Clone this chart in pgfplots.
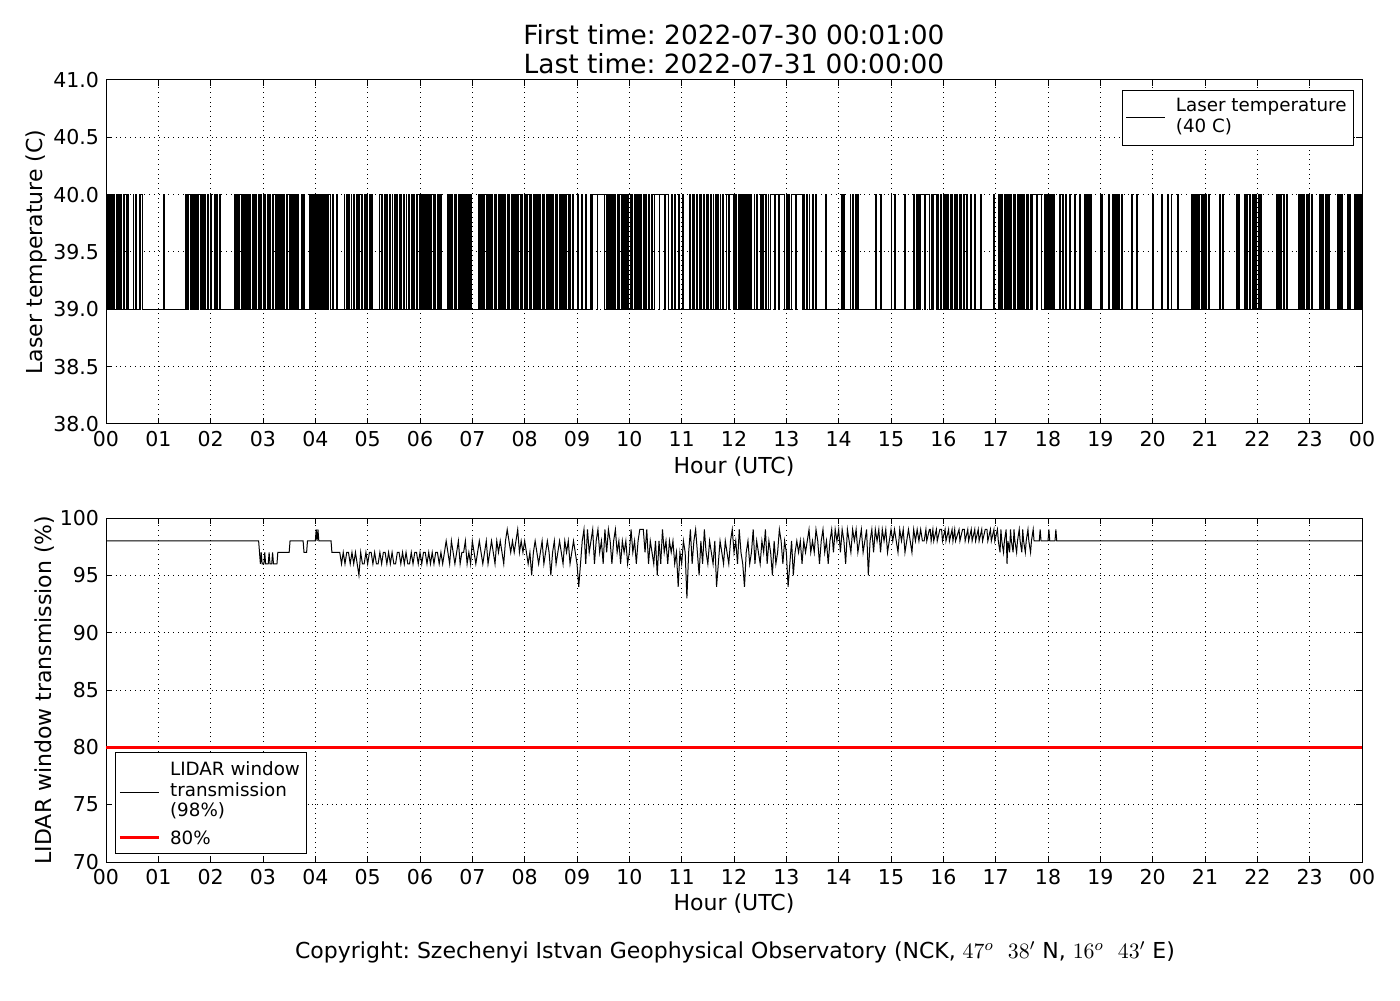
\documentclass[border=0pt]{standalone}
\usepackage{pgfplots}
\pgfplotsset{compat=1.18}
\usepackage{fontspec}
\setmainfont{DejaVu Sans}
\frenchspacing
\begin{document}
\begin{tikzpicture}
\pgfplotsset{
  every axis/.append style={
    scale only axis, width=628pt, height=172pt, anchor=south west,
    xmin=0, xmax=1440,
    xtick={0,60,...,1440},
    xticklabels={00,01,02,03,04,05,06,07,08,09,10,11,12,13,14,15,16,17,18,19,20,21,22,23,00},
    xtick pos=both, ytick pos=both,
    tick align=inside, major tick length=3pt, minor tick num=0,
    tick style={black, line width=0.5pt},
    axis line style={black, line width=0.5pt},
    grid=major, grid style={black, dotted, line width=0.5pt},
    tick label style={font=\fontsize{10.25}{12}\selectfont},
    /pgf/number format/assume math mode=true,
    legend cell align=left,
    legend image code/.code={\draw[#1] (0pt,0pt) -- (19.5pt,0pt);},
    legend style={draw=black, line width=0.5pt, font=\fontsize{9.15}{10.2}\selectfont,
      inner xsep=1.5pt, inner ysep=3pt, row sep=2pt,
      nodes={text depth=},
      /tikz/every odd column/.append style={column sep=3pt}},
  }
}
\path[use as bounding box] (0,0) rectangle (700pt,500pt);
% ---------------- top panel ----------------
\begin{axis}[name=top, at={(53pt,288pt)},
  ymin=38, ymax=41, ytick={38,38.5,...,41},
  yticklabel style={/pgf/number format/.cd, fixed, fixed zerofill, precision=1},
  legend style={at={(1,1)}, anchor=north east, xshift=-4pt, yshift=-5pt, inner ysep=1.5pt}]
\addplot[const plot, black, line width=0.5pt] coordinates {
(0,40)(1,39)(2,40)(3,39)(4,40)(5,39)(6,40)(7,39)(9,40)(10,39)(12,40)(13,39)(14,40)(15,39)(17,40)(18,39)(20,40)(21,39)(23,40)(24,39)(25,40)(26,39)(31,40)(32,39)(34,40)(35,39)(38,40)(39,39)(40,40)(42,39)
(66,40)(67,39)(91,40)(92,39)(93,40)(94,39)(95,40)(97,39)(98,40)(99,39)(100,40)(101,39)(102,40)(103,39)(104,40)(105,39)(106,40)(108,39)(109,40)(110,39)(111,40)(112,39)(113,40)(114,39)(116,40)(117,39)(120,40)(121,39)(124,40)(125,39)(127,40)(128,39)(130,40)(131,39)
(147,40)(148,39)(150,40)(151,39)(152,40)(153,39)(155,40)(156,39)(158,40)(159,39)(160,40)(161,39)(162,40)(163,39)(165,40)(166,39)(168,40)(169,39)(170,40)(171,39)(172,40)(173,39)(175,40)(176,39)(177,40)(178,39)(180,40)(181,39)(182,40)(183,39)(185,40)(186,39)(188,40)(189,39)(191,40)(192,39)(194,40)(195,39)(196,40)(197,39)(198,40)(199,39)(200,40)(201,39)(202,40)(203,39)(204,40)(205,39)(207,40)(208,39)(210,40)(211,39)(213,40)(214,39)(215,40)(216,39)(217,40)(218,39)(220,40)(221,39)(224,40)(225,39)(227,40)(228,39)
(233,40)(234,39)(235,40)(236,39)(237,40)(238,39)(239,40)(240,39)(241,40)(242,39)(243,40)(244,39)(245,40)(246,39)(247,40)(248,39)(249,40)(250,39)(251,40)(252,39)(253,40)(254,39)(255,40)(257,39)(260,40)(261,39)(264,40)(265,39)
(273,40)(274,39)(276,40)(277,39)(278,40)(279,39)(281,40)(282,39)(284,40)(285,39)(287,40)(288,39)(290,40)(291,39)(293,40)(294,39)(296,40)(297,39)(299,40)(300,39)(302,40)(303,39)(304,40)(305,39)(313,40)(314,39)(316,40)(317,39)(319,40)(320,39)(322,40)(323,39)(325,40)(326,39)(328,40)(329,39)(331,40)(332,39)(333,40)(334,39)(336,40)(337,39)(338,40)(339,39)(341,40)(342,39)(344,40)(345,39)(347,40)(348,39)(350,40)(351,39)(353,40)(354,39)(356,40)(357,39)(359,40)(360,39)
(361,40)(362,39)(363,40)(364,39)(365,40)(366,39)(368,40)(369,39)(370,40)(371,39)(372,40)(373,39)(375,40)(376,39)(377,40)(378,39)(380,40)(381,39)(382,40)(383,39)(384,40)(385,39)
(392,40)(393,39)(394,40)(395,39)(396,40)(397,39)(399,40)(400,39)(401,40)(402,39)(404,40)(405,39)(406,40)(407,39)(409,40)(410,39)(411,40)(412,39)(413,40)(414,39)(416,40)(417,39)(418,40)(419,39)
(427,40)(428,39)(429,40)(430,39)(432,40)(433,39)(434,40)(436,39)(437,40)(438,39)(440,40)(441,39)(442,40)(443,39)(445,40)(446,39)(447,40)(448,39)(450,40)(451,39)(452,40)(453,39)(455,40)(456,39)(457,40)(458,39)(460,40)(461,39)(462,40)(463,39)(465,40)(466,39)(467,40)(468,39)(470,40)(471,39)(472,40)(473,39)(475,40)(476,39)(477,40)(478,39)
(480,40)(481,39)(482,40)(483,39)(485,40)(486,39)(487,40)(488,39)(490,40)(491,39)(492,40)(493,39)(495,40)(496,39)(497,40)(498,39)(500,40)(501,39)(502,40)(503,39)(505,40)(506,39)(507,40)(508,39)(510,40)(511,39)(512,40)(513,39)(515,40)(516,39)(517,40)(518,39)(520,40)(521,39)(522,40)(523,39)(525,40)(526,39)(527,40)(528,39)(530,40)(531,39)(532,40)(533,39)(535,40)(536,39)
(541,40)(542,39)(545,40)(546,39)(550,40)(551,39)(555,40)(557,39)(558,40)(563,39)(564,40)(572,39)(574,40)(575,39)(576,40)(577,39)(578,40)(579,39)(581,40)(582,39)(583,40)(584,39)(586,40)(587,39)(588,40)(589,39)(591,40)(592,39)(593,40)(594,39)(596,40)(597,39)(598,40)(599,39)
(601,40)(602,39)(603,40)(604,39)(606,40)(607,39)(608,40)(609,39)(611,40)(612,39)(613,40)(614,39)(616,40)(617,39)(619,40)(620,39)(622,40)(623,39)(625,40)(626,39)(629,40)(634,39)(635,40)(640,39)(641,40)(645,39)(648,40)(649,39)(652,40)(653,39)(656,40)(657,39)(661,40)(662,39)
(669,40)(670,39)(672,40)(673,39)(674,40)(675,39)(677,40)(678,39)(680,40)(681,39)(682,40)(683,39)(685,40)(686,39)(688,40)(689,39)(690,40)(691,39)(693,40)(694,39)(696,40)(697,39)(699,40)(700,39)(701,40)(702,39)(704,40)(705,39)(707,40)(708,39)(711,40)(714,39)(715,40)(719,39)
(720,40)(721,39)(722,40)(723,39)(725,40)(726,39)(727,40)(728,39)(729,40)(730,39)(731,40)(732,39)(733,40)(734,39)(735,40)(736,39)(737,40)(738,39)(739,40)(740,39)(743,40)(744,39)(746,40)(747,39)(750,40)(751,39)
(753,40)(754,39)(756,40)(757,39)(759,40)(760,39)(762,40)(766,39)(767,40)(771,39)(772,40)(778,39)(780,40)(781,39)(783,40)(784,39)(786,40)(791,39)(792,40)(798,39)(800,40)(801,39)(803,40)(804,39)(806,40)(807,39)(810,40)(811,39)(813,40)(814,39)(825,40)(826,39)
(843,40)(844,39)(846,40)(847,39)(853,40)(854,39)(856,40)(857,39)(859,40)(860,39)(862,40)(863,39)(882,40)(883,39)(888,40)(889,39)(900,40)(901,39)(904,40)(905,39)(916,40)(917,39)(926,40)(927,39)(929,40)(930,39)(932,40)(933,39)
(934,40)(938,39)(939,40)(944,39)(946,40)(947,39)(949,40)(952,39)(953,40)(955,39)(957,40)(958,39)(960,40)(961,39)(963,40)(964,39)(965,40)(966,39)(968,40)(969,39)(970,40)(971,39)(973,40)(974,39)(975,40)(976,39)(978,40)(979,39)(980,40)(981,39)(983,40)(984,39)(987,40)(988,39)(991,40)(992,39)(996,40)(997,39)(1003,40)(1004,39)(1018,40)(1019,39)
(1023,40)(1024,39)(1025,40)(1026,39)(1027,40)(1028,39)(1030,40)(1031,39)(1032,40)(1033,39)(1035,40)(1036,39)(1037,40)(1038,39)(1040,40)(1041,39)(1042,40)(1043,39)(1045,40)(1046,39)(1047,40)(1048,39)(1050,40)(1051,39)(1052,40)(1053,39)(1055,40)(1056,39)(1057,40)(1058,39)(1060,40)(1061,39)(1062,40)(1067,39)(1068,40)(1073,39)(1076,40)(1077,39)(1078,40)(1079,39)
(1080,40)(1081,39)(1082,40)(1083,39)(1084,40)(1085,39)(1086,40)(1087,39)(1093,40)(1094,39)(1097,40)(1098,39)(1100,40)(1101,39)(1105,40)(1106,39)(1110,40)(1111,39)(1116,40)(1117,39)(1122,40)(1123,39)(1124,40)(1125,39)(1126,40)(1127,39)(1129,40)(1130,39)
(1140,40)(1141,39)(1142,40)(1143,39)(1149,40)(1150,39)(1154,40)(1155,39)(1156,40)(1157,39)(1159,40)(1160,39)(1161,40)(1162,39)(1164,40)(1165,39)(1176,40)(1177,39)(1182,40)(1183,39)(1200,40)(1201,39)(1210,40)(1211,39)(1217,40)(1218,39)(1221,40)(1222,39)(1229,40)(1230,39)
(1244,40)(1245,39)(1246,40)(1247,39)(1248,40)(1249,39)(1250,40)(1251,39)(1253,40)(1254,39)(1256,40)(1257,39)(1258,40)(1259,39)(1261,40)(1262,39)(1264,40)(1265,39)(1277,40)(1278,39)(1280,40)(1281,39)(1296,40)(1297,39)(1298,40)(1299,39)
(1305,40)(1306,39)(1308,40)(1309,39)(1311,40)(1312,39)(1314,40)(1315,39)(1316,40)(1317,39)(1318,40)(1319,39)(1321,40)(1322,39)(1324,40)(1325,39)(1342,40)(1343,39)(1344,40)(1345,39)(1347,40)(1348,39)(1350,40)(1351,39)(1353,40)(1354,39)
(1367,40)(1368,39)(1369,40)(1370,39)(1371,40)(1372,39)(1373,40)(1374,39)(1376,40)(1377,39)(1379,40)(1380,39)(1382,40)(1383,39)(1391,40)(1392,39)(1393,40)(1394,39)(1395,40)(1396,39)(1398,40)(1399,39)(1400,40)(1401,39)(1402,40)(1403,39)
(1412,40)(1413,39)(1414,40)(1415,39)(1417,40)(1418,39)(1423,40)(1424,39)(1426,40)(1427,39)(1431,40)(1432,39)(1433,40)(1434,39)(1435,40)(1436,39)(1437,40)(1438,39)(1439,40)(1440,39)
};
\addlegendentry{\begin{tabular}{@{}l@{}}Laser temperature\\(40 C)\end{tabular}}
\end{axis}
% ---------------- bottom panel ----------------
\begin{axis}[name=bot, at={(53pt,69pt)},
  ymin=70, ymax=100, ytick={70,75,...,100},
  legend style={at={(0,0)}, anchor=south west, xshift=4.5pt, yshift=4pt, inner ysep=2.5pt, row sep=0pt}]
\addplot[black, line width=0.5pt] coordinates {
(0,98)(175,98)(176,97)(177,96)(178,97)(179,96)(181,96)(182,97)(183,96)(186,96)(187,97)(188,96)(190,96)(191,97)(192,96)(196,96)(197,97)(210,97)(211,98)(226,98)(227,97)(230,97)(231,98)(240,98)(241,99)(242,98)(243,99)(244,98)(258,98)(259,97)(268,97)
(270,96)(272,97)(274,96)(276,97)(278,97)(280,96)(282,97)(284,96)(286,97)(288,96)(290,95)(292,97)
(294,96)(296,96)(298,97)(300,96)(302,97)(304,97)(306,96)(308,97)(310,96)(312,96)(314,97)(316,96)(318,97)(320,97)(322,96)(324,97)(326,96)(328,97)(330,96)(332,96)(334,97)(336,97)(338,96)(340,97)(342,96)(344,97)(346,96)(348,96)(350,97)(352,96)(354,97)(356,97)(358,96)(360,97)(362,96)(364,97)(366,97)(368,96)(370,97)(372,96)(374,97)(376,96)(378,97)(380,97)(382,96)(384,97)(386,96)(388,97)(390,98)
(392,97)(394,96)(396,98)(398,97)(400,96)(402,97)(404,98)(406,96)(408,97)(410,97)(412,98)(414,96)(416,97)(418,96)(420,98)(422,97)(424,96)(426,97)(428,98)(430,97)(432,96)(434,97)(436,98)(438,96)(440,97)(442,98)(444,97)(446,96)(448,98)(450,97)(452,98)(454,97)(456,96)(458,98)(460,99)
(462,98)(464,97)(466,98)(468,97)(470,98)(472,99)(474,97)(476,98)(478,97)(480,98)(482,97)(484,96)(486,97)(488,95)(490,97)
(492,98)(494,97)(496,96)(498,97)(500,98)(502,96)(504,97)(506,98)(508,97)(510,95)(512,97)(514,98)(516,96)(518,97)(520,98)(522,97)(524,96)(526,98)(528,97)(530,98)(532,96)(534,97)(536,98)(538,97)(540,96)(542,94)(544,96)
(546,98)(548,99)(550,96)(552,99)(554,97)(556,98)(558,99)(560,96)(562,98)(564,99)(566,97)(568,98)(570,96)(572,99)(574,97)(576,99)(578,98)(580,96)(582,98)(584,99)(586,97)(588,98)(590,96)(592,98)(594,97)(596,98)
(598,96)(600,97)(602,99)(604,97)(606,98)(608,96)(610,98)(612,99)(614,99)(616,99)(618,97)(620,99)(622,96)(624,98)(626,97)(628,96)(630,98)(632,95)(634,98)(636,96)(638,99)(640,97)(642,98)(644,96)(646,98)(648,97)(650,98)(652,96)(654,97)(656,94)(658,97)(660,96)
(662,98)(664,97)(666,93)(668,97)(670,99)(672,96)(674,98)(676,99)(678,97)(680,95)(682,98)(684,96)(686,99)(688,97)(690,96)(692,98)(694,97)(696,96)(698,98)(700,94)(702,96)(704,98)(706,97)(708,96)(710,98)(712,97)(714,96)
(716,98)(718,99)(720,97)(722,98)(724,96)(726,99)(728,97)(730,96)(732,94)(734,97)(736,98)(738,96)(740,97)(742,99)(744,96)(746,98)(748,97)(750,96)(752,98)(754,97)(756,99)(758,96)(760,98)(762,97)(764,95)(766,98)(768,96)(770,97)(772,99)(774,98)(776,96)(778,98)(780,97)(782,94)(784,96)(786,98)(788,95)
(790,97)(792,98)(794,97)(796,98)(798,96)(800,98)(802,97)(804,98)(806,99)(808,97)(810,98)(812,97)(814,99)(816,98)(818,96)(820,98)(822,99)(824,97)(826,98)(828,96)(830,98)(832,99)(834,97)(836,99)(838,98)(840,99)(842,97)(844,99)(846,98)(848,96)(850,99)(852,98)(854,97)(856,99)(858,98)(860,99)(862,97)(864,98)(866,99)(868,97)(870,98)(872,99)(874,95)(876,98)(878,99)
(880,97)(882,99)(884,98)(886,99)(888,97)(890,99)(892,98)(894,99)(896,97)(898,98)(900,99)(902,98)(904,99)(906,98)(908,97)(910,99)(912,98)(914,99)(916,97)(918,98)(920,99)(922,98)(924,97)(926,99)(928,98)(930,99)(932,98)(934,99)(936,98)
(938,98)(940,99)(941,98)(944,99)(945,99)(946,98)(948,99)(949,98)(952,99)(953,98)(956,99)(958,99)(959,98)(962,99)(963,98)(966,99)(967,98)(970,99)(971,98)(973,99)(974,98)(978,99)(979,98)(982,99)(984,99)(985,98)(988,99)(989,98)(992,99)(993,98)(996,99)(997,98)(1000,99)(1001,98)(1004,99)(1005,98)(1008,99)(1010,99)(1011,98)(1014,99)(1015,98)(1018,99)(1019,98)(1022,99)(1023,98)
(1025,97)(1026,99)(1027,98)(1029,97)(1030,98)(1032,99)(1033,96)(1034,98)(1036,97)(1037,99)(1038,98)(1040,97)(1041,99)(1042,98)(1044,97)(1045,98)(1047,99)(1048,98)(1050,97)(1051,99)(1052,98)(1054,97)(1055,98)(1057,99)(1058,98)(1060,97)(1061,98)(1063,99)(1064,98)
(1070,98)(1071,99)(1072,98)(1080,98)(1081,99)(1082,98)(1088,98)(1089,99)(1090,98)(1440,98)
};
\addlegendentry{\begin{tabular}{@{}l@{}}LIDAR window\\transmission\\(98\%)\end{tabular}}
\addplot[red, line width=1.3pt] coordinates {(0,80) (1440,80)};
\addlegendentry{80\%}
\end{axis}
% ---------------- texts ----------------
\node[anchor=base, font=\fontsize{13.2}{15}\selectfont] at (367pt,477.5pt) {First time: 2022-07-30 00:01:00};
\node[anchor=base, font=\fontsize{13.2}{15}\selectfont] at (367pt,463pt) {Last time: 2022-07-31 00:00:00};
\node[anchor=base, font=\fontsize{11}{13}\selectfont] at (367pt,263pt) {Hour (UTC)};
\node[anchor=base, font=\fontsize{11}{13}\selectfont] at (367pt,45pt) {Hour (UTC)};
\node[anchor=base, rotate=90, font=\fontsize{11}{13}\selectfont] at (21pt,374pt) {Laser temperature (C)};
\node[anchor=base, rotate=90, font=\fontsize{11}{13}\selectfont] at (25.5pt,155pt) {LIDAR window transmission (\%)};
\node[anchor=base, font=\fontsize{11}{13}\selectfont] at (367.5pt,21pt) {Copyright: Szechenyi Istvan Geophysical Observatory (NCK, $47^o\ \ 38'$ N, $16^o\ \ 43'$ E)};
\end{tikzpicture}
\end{document}
